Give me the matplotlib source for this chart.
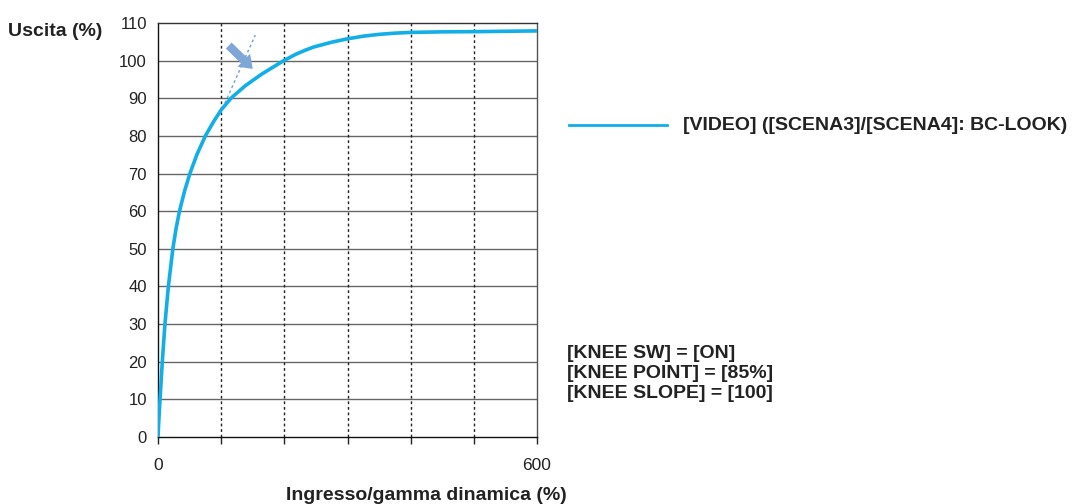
import matplotlib
matplotlib.use("Agg")
import matplotlib.pyplot as plt

plt.rcParams['font.family'] = ['Liberation Sans', 'DejaVu Sans']

# Data
input_pct = [0, 1, 3.2, 6.8, 11, 16.4, 23.5, 28.5, 34, 42, 50.5, 61.5, 75, 88, 100,
             116, 138, 164, 198, 217, 232, 246, 275, 300, 325, 351, 375, 400, 450, 500, 550, 600]
output_pct = [0, 3.5, 10, 20, 30, 40, 50, 55.3, 60, 65.3, 70, 75, 80, 83.8, 86.9,
              90.1, 93.3, 96.4, 99.9, 101.6, 102.7, 103.6, 104.9, 105.8, 106.5, 107.0, 107.3, 107.5, 107.65, 107.7, 107.8, 107.9]
tangent_x = [106, 154]
tangent_y = [88.7, 106.8]
arrow_tail = (112, 104)
arrow_head = (150, 97.8)

yticks = list(range(0, 111, 10))
xgrid = [100, 200, 300, 400, 500]
xtick_labels = {0: "0", 600: "600"}

series_label = "[VIDEO] ([SCENA3]/[SCENA4]: BC-LOOK)"
knee_lines = ["[KNEE SW] = [ON]", "[KNEE POINT] = [85%]", "[KNEE SLOPE] = [100]"]

W, H = 1079, 504
fig = plt.figure(figsize=(W/100, H/100), dpi=100)
ax = fig.add_axes([158/W, 1-437/H, (537-158)/W, (437-23)/H])
ax.set_xlim(0, 600)
ax.set_ylim(0, 110)

blue = "#12aee8"
for y in yticks[1:-1]:
    ax.axhline(y, color="#666666", lw=1.0, zorder=1)
for x in xgrid:
    ax.axvline(x, color="#222222", lw=1.0, ls=(0, (2, 2)), zorder=1)

ax.plot(input_pct, output_pct, color=blue, lw=2.6, zorder=3,
        solid_joinstyle='round', solid_capstyle='butt')
ax.plot(tangent_x, tangent_y, color="#6fa0d8", lw=1.0, ls=(0, (2, 2)), zorder=2)
ax.annotate("", xy=arrow_head, xytext=arrow_tail,
            arrowprops=dict(arrowstyle="simple,head_width=1.3,head_length=0.9,tail_width=0.6",
                            color="#7ea6d6", lw=0, shrinkA=0, shrinkB=0), zorder=4)

ax.set_yticks(yticks)
ax.set_yticklabels([str(v) for v in yticks], fontsize=12, color="#222222")
ax.tick_params(axis='y', length=0, pad=8)
xt = [0, 100, 200, 300, 400, 500, 600]
ax.set_xticks(xt)
ax.set_xticklabels([xtick_labels.get(v, "") for v in xt], fontsize=12.5, color="#222222")
ax.tick_params(axis='x', direction='out', length=5, width=1, pad=10, color="#222222")
for s in ax.spines.values():
    s.set_linewidth(1.0)
ax.spines['left'].set_color("#111111")
ax.spines['bottom'].set_color("#111111")
ax.spines['top'].set_color("#333333")
ax.spines['right'].set_color("#555555")

bold = dict(fontsize=14, fontweight='bold', color="#222222")
fig.text(8/W, 1-32/H, "Uscita (%)", va='center', ha='left', **bold)
fig.text(567/W, 1-495/H, "Ingresso/gamma dinamica (%)", va='center', ha='right', **bold)

fig.add_artist(plt.Line2D([569/W, 667/W], [1-125/H, 1-125/H], color=blue, lw=2.0))
fig.text(683/W, 1-125/H, series_label, va='center', ha='left', **bold)

for i, t in enumerate(knee_lines):
    fig.text(567/W, 1-(353+20.5*i)/H, t, va='center', ha='left', **bold)

fig.savefig("out.png", dpi=100)
